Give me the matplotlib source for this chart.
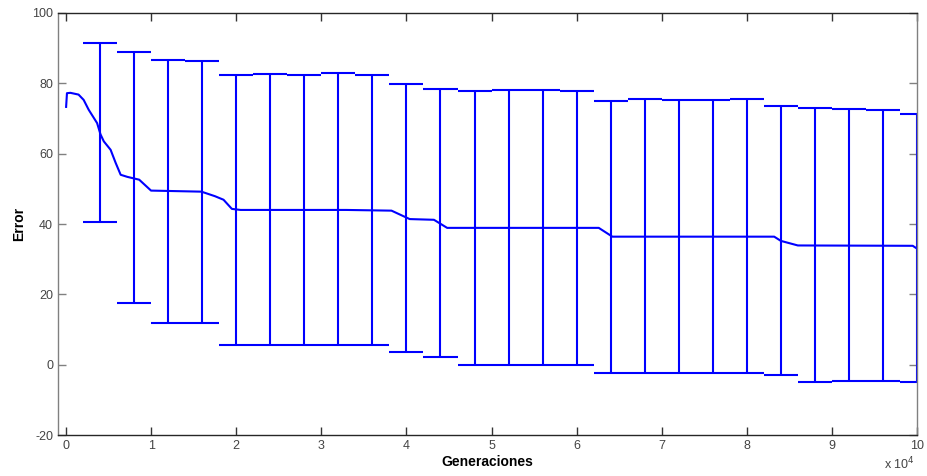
import matplotlib
matplotlib.use('Agg')
import matplotlib.pyplot as plt
import numpy as np

plt.rcParams['font.family'] = ['Liberation Sans', 'DejaVu Sans']
plt.rcParams['axes.unicode_minus'] = False

# curva del error medio (generacion, error)
gen_line = [0, 100, 500, 1460, 2060, 2650, 3640, 4040, 4430, 5230, 5820, 6410,
            7200, 8590, 9980, 15900, 17500, 18500, 19480, 20500, 32900, 38240,
            40380, 43230, 44780, 62600, 64200, 83220, 84000, 86000, 99500, 100000]
err_line = [73.3, 77.2, 77.3, 76.8, 75.3, 72.5, 68.7, 65.5, 63.5, 61.1, 57.4, 54.0,
            53.4, 52.6, 49.5, 49.2, 47.9, 46.9, 44.3, 44.0, 44.0, 43.8,
            41.4, 41.2, 38.9, 38.9, 36.4, 36.4, 35.2, 33.9, 33.8, 33.0]

# barras de error cada 4000 generaciones
gen_bar = np.arange(4000, 100001, 4000)
err_bar = [66.0, 53.2, 49.25, 49.15, 44.0, 44.1, 44.0, 44.15, 43.9, 41.6,
           40.25, 38.85, 39.0, 39.0, 38.85, 36.4, 36.65, 36.4, 36.4, 36.7,
           35.3, 34.05, 34.1, 33.9, 33.25]
std_bar = [25.4, 35.6, 37.35, 37.25, 38.5, 38.6, 38.5, 38.65, 38.4, 38.1,
           38.15, 38.85, 39.0, 39.0, 38.85, 38.7, 38.95, 38.85, 38.85, 38.95,
           38.15, 38.85, 38.65, 38.45, 38.05]
cap_half = 2000

xticks = np.arange(0, 100001, 10000)
xtick_labels = [str(i) for i in range(11)]
yticks = np.arange(-20, 101, 20)

fig = plt.figure(figsize=(9.27, 4.76), dpi=100)
ax = fig.add_axes([0.0626, 0.0861, 0.9266, 0.8866])

azul = '#0000FF'
ax.plot(gen_line, err_line, color=azul, lw=1.5)
ax.errorbar(gen_bar, err_bar, yerr=std_bar, fmt='none', ecolor=azul,
            elinewidth=1.5, capsize=0)
up = np.array(err_bar) + np.array(std_bar)
lo = np.array(err_bar) - np.array(std_bar)
ax.hlines(up, gen_bar - cap_half, gen_bar + cap_half, colors=azul, lw=1.5)
ax.hlines(lo, gen_bar - cap_half, gen_bar + cap_half, colors=azul, lw=1.5)

ax.set_xlim(-950, 100000)
ax.set_ylim(-20, 100)
ax.set_xticks(xticks)
ax.set_xticklabels(xtick_labels)
ax.set_yticks(yticks)

ax.tick_params(direction='in', length=6, width=1, labelsize=9,
               labelcolor='#444444', top=True, right=True)
ax.tick_params(axis='x', colors='#333333', labelcolor='#444444')
ax.tick_params(axis='y', colors='#808080', labelcolor='#444444')
for lado in ['top', 'bottom']:
    ax.spines[lado].set_color('#262626')
for lado in ['left', 'right']:
    ax.spines[lado].set_color('#808080')
for s in ax.spines.values():
    s.set_linewidth(1)

ax.set_xlabel('Generaciones', fontsize=10, fontweight='bold', color='black',
              labelpad=2)
ax.set_ylabel('Error', fontsize=10, fontweight='bold', color='black',
              labelpad=4)
fig.text(0.987, 1 - 472 / 476, 'x 10$^{4}$', ha='right', va='bottom',
         fontsize=9, color='#444444')

fig.savefig('out.png', dpi=100)
